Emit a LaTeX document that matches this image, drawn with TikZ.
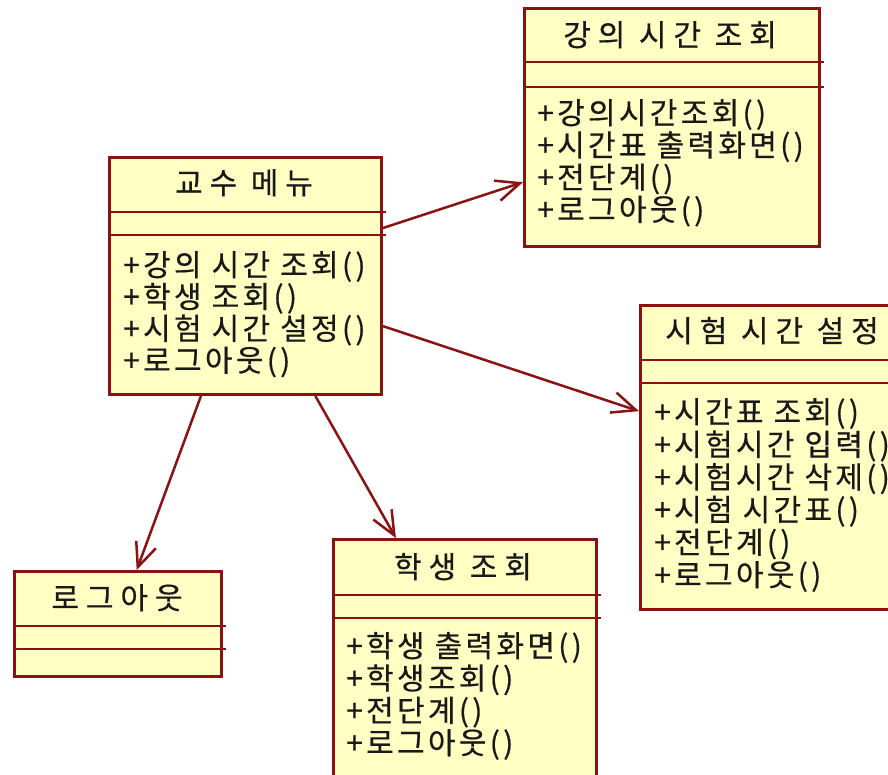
\documentclass[tikz,border=0pt]{standalone}
\usepackage{fontspec}
\usetikzlibrary{arrows.meta,calc}
\newfontfamily\krm{Noto Sans CJK KR}[LetterSpace=11,FakeBold=0.5]
\newfontfamily\krt{Noto Sans CJK KR}[LetterSpace=23,FakeBold=0.5]
\definecolor{umlred}{RGB}{139,18,18}
\definecolor{umlfill}{RGB}{255,255,196}
\tikzset{
  umlbox/.style={draw=umlred, fill=umlfill, line width=3pt, rectangle, inner sep=0pt, anchor=north west},
  compline/.style={draw=umlred, line width=2.6pt},
  arr/.style={draw=umlred, line width=2.5pt, -{Straight Barb[length=24pt,width=21pt]}},
  title/.style={font=\krt\fontsize{30}{32}\selectfont, anchor=base, inner sep=0pt, text=black!90},
  method/.style={font=\krm\fontsize{30}{32}\selectfont, anchor=base west, inner sep=0pt, text=black!90}
}
\begin{document}
\begin{tikzpicture}[x=1pt,y=-1pt]
\useasboundingbox (0,0) rectangle (888,774);
\clip (0,0) rectangle (888,774);
\fill[white] (0,0) rectangle (888,774);

% boxes
\node[umlbox, minimum width=272pt, minimum height=237pt] (prof) at (108,156) {};
\node[umlbox, minimum width=295pt, minimum height=238pt] (kang) at (523,7) {};
\node[umlbox, minimum width=266pt, minimum height=304pt] (exam) at (639,304) {};
\node[umlbox, minimum width=207pt, minimum height=105pt] (logout) at (13,570) {};
\node[umlbox, minimum width=263pt, minimum height=252pt] (stud) at (332,538) {};

% compartment lines
\foreach \b/\ya/\yb in {prof/212/235, kang/62/87, exam/360/383, logout/626/649, stud/595/618}{
  \draw[compline] (\b.west |- 0,\ya) -- ([xshift=3pt]\b.east |- 0,\ya);
  \draw[compline] (\b.west |- 0,\yb) -- ([xshift=3pt]\b.east |- 0,\yb);
}

% titles
\node[title] (proft) at (244,194) {교수 메뉴};
\node[title] (kangt) at (670,46) {강의 시간 조회};
\node[title] (examt) at (772,342) {시험 시간 설정};
\node[title] (logoutt) at (117,609) {로그아웃};
\node[title] (studt) at (463,578) {학생 조회};

% methods
\foreach \t [count=\i] in {+강의 시간 조회(), +학생 조회(), +시험 시간 설정(), +로그아웃()}
  \node[method] (pm\i) at (123,{276+31.8*(\i-1)}) {\t};
\foreach \t [count=\i] in {+강의시간조회(), +시간표 출력화면(), +전단계(), +로그아웃()}
  \node[method] (km\i) at (537,{124+32.2*(\i-1)}) {\t};
\foreach \t [count=\i] in {+시간표 조회(), +시험시간 입력(), +시험시간 삭제(), +시험 시간표(), +전단계(), +로그아웃()}
  \node[method] (em\i) at (654,{423+32.6*(\i-1)}) {\t};
\foreach \t [count=\i] in {+학생 출력화면(), +학생조회(), +전단계(), +로그아웃()}
  \node[method] (sm\i) at (346,{657+32.3*(\i-1)}) {\t};

% connectors
\draw[arr] ($(prof.north east)!0.30!(prof.south east)$) -- ($(kang.north west)!0.727!(kang.south west)$);
\draw[arr] ($(prof.north east)!0.709!(prof.south east)$) -- ($(exam.north west)!0.349!(exam.south west)$);
\draw[arr] ($(prof.south west)!0.338!(prof.south east)$) -- ($(logout.north west)!0.589!(logout.north east)$);
\draw[arr] ($(prof.south west)!0.754!(prof.south east)$) -- ($(stud.north west)!0.24!(stud.north east)$);
\end{tikzpicture}
\end{document}
